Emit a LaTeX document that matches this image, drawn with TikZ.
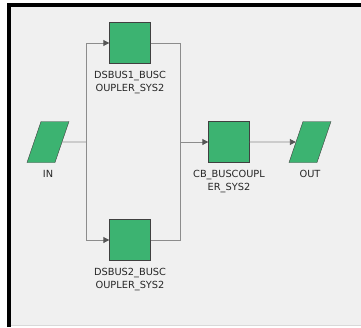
\documentclass[tikz,border=0pt]{standalone}
\usepackage{fontspec}
\setmainfont{DejaVu Sans}
\usetikzlibrary{arrows.meta, positioning, shapes.geometric, calc}
\definecolor{blockgreen}{HTML}{3CB371}
\definecolor{panelgray}{HTML}{F0F0F0}
\definecolor{wiregray}{HTML}{8C8C8C}
\definecolor{tipgray}{HTML}{555555}
\tikzset{
    block/.style={
        draw=black!75,
        fill=blockgreen,
        minimum width=41pt,
        minimum height=41pt,
        inner sep=0pt
    },
    port/.style={
        trapezium,
        trapezium left angle=76,
        trapezium right angle=104,
        trapezium stretches=true,
        draw=black!75,
        fill=blockgreen,
        minimum width=42pt,
        minimum height=41pt,
        inner sep=2pt
    },
    caption/.style={font=\fontsize{9.8}{13.5}\selectfont, text=black!85, align=center, inner sep=0pt},
    wire/.style={draw=wiregray, line width=0.9pt},
    flow/.style={wire, -{Triangle[length=6pt, width=6pt, color=tipgray]}}
}

\begin{document}
\begin{tikzpicture}[x=1pt, y=-1pt]
\useasboundingbox (0,0) rectangle (361,327);
% frame
\fill[white] (0,0) rectangle (361,327);
\fill[panelgray] (9,5) rectangle (361,326);
\draw[black!15, line width=1pt] (9,325.5) -- (361,325.5);
\draw[black, line width=3.5pt] (9,327) -- (9,5) -- (361,5);

% blocks
\node[port] (in) at (48,142) {\strut};
\node[block] (ds1) at (130,43) {};
\node[block] (ds2) at (130,240) {};
\node[block] (cb) at (229,142) {};
\node[port] (out) at (310,142) {\strut};

\node[caption, below=7pt of in] (inlbl) {IN};
\node[caption, below=7pt of ds1] (ds1lbl) {DSBUS1\_BUSC\\OUPLER\_SYS2};
\node[caption, below=7pt of ds2] (ds2lbl) {DSBUS2\_BUSC\\OUPLER\_SYS2};
\node[caption, below=7pt of cb] (cblbl) {CB\_BUSCOUPL\\ER\_SYS2};
\node[caption, below=7pt of out] (outlbl) {OUT};

% wiring
\coordinate (split) at (86,142);
\coordinate (merge) at (180,142);
\draw[wire] (in) -- (split);
\draw[flow] (split) |- (ds1);
\draw[flow] (split) |- (ds2);
\draw[wire] (ds1) -| (merge);
\draw[wire] (ds2) -| (merge);
\draw[flow] (merge) -- (cb);
\draw[flow] (cb) -- (out);
\end{tikzpicture}
\end{document}
